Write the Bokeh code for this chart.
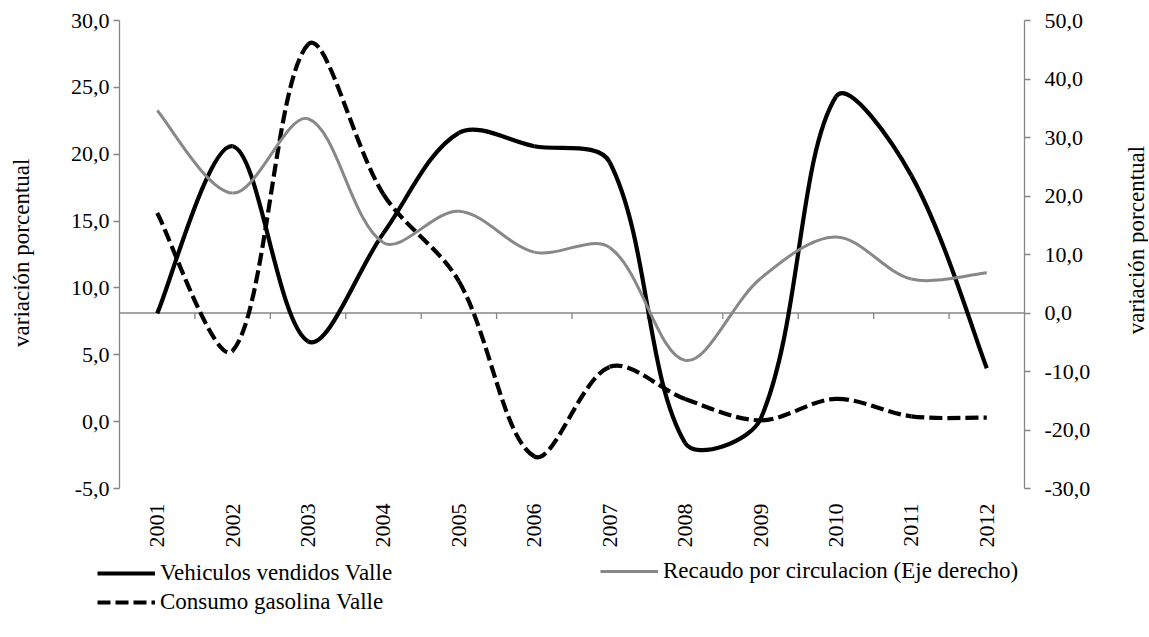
import math
from bokeh.plotting import figure
from bokeh.layouts import column, row
from bokeh.models import Range1d, LinearAxis, FixedTicker, Span, Legend, LegendItem, Label
from bokeh.embed import file_html
from bokeh.resources import INLINE

# ---------------- data ----------------
years = ["2001", "2002", "2003", "2004", "2005", "2006",
         "2007", "2008", "2009", "2010", "2011", "2012"]
vehiculos = [8.1, 20.6, 6.0, 14.1, 21.6, 20.6, 19.4, -1.6, 0.2, 24.3, 18.4, 4.0]
gasolina = [15.6, 5.3, 28.2, 17.0, 10.5, -2.6, 4.1, 1.7, 0.1, 1.7, 0.4, 0.3]
recaudo = [34.6, 20.5, 33.2, 12.0, 17.4, 10.4, 11.2, -8.1, 5.9, 13.0, 5.8, 6.9]

left_ticks = [-5, 0, 5, 10, 15, 20, 25, 30]
left_tick_labels = ["-5,0", "0,0", "5,0", "10,0", "15,0", "20,0", "25,0", "30,0"]
right_ticks = [-30, -20, -10, 0, 10, 20, 30, 40, 50]
right_tick_labels = ["-30,0", "-20,0", "-10,0", "0,0", "10,0", "20,0", "30,0", "40,0", "50,0"]

name_veh = "Vehiculos vendidos Valle"
name_gas = "Consumo gasolina Valle"
name_rec = "Recaudo por circulacion (Eje derecho)"
axis_title = "variación porcentual"

# ---------------- layout ----------------
FW, FH = 905, 468
LT_W = 40
B_LEFT, B_TOP, B_RIGHT, B_BOTTOM = 79, 20, 100, 62
MAIN_H = B_TOP + FH + B_BOTTOM
MAIN_W = B_LEFT + FW + B_RIGHT
RT_W = 24
LEG_H = 84
LEFT_MIN, LEFT_MAX = -5, 30
RIGHT_MIN, RIGHT_MAX = -30, 50
FONT = "Liberation Serif"
FS = "22px"
FS_BIG = "23px"
AXIS_COLOR = "#868686"

VEH_STYLE = dict(line_color="black", line_width=4.2)
GAS_STYLE = dict(line_color="black", line_width=4.2, line_dash="13 5")
REC_STYLE = dict(line_color="#888888", line_width=3)

xpos = [i + 1 for i in range(len(years))]

p = figure(frame_width=FW, frame_height=FH,
           x_range=Range1d(0.5, len(years) + 0.5),
           y_range=Range1d(LEFT_MIN, LEFT_MAX),
           output_backend="svg", toolbar_location=None,
           min_border_left=B_LEFT, min_border_right=B_RIGHT,
           min_border_top=B_TOP, min_border_bottom=B_BOTTOM)
p.extra_y_ranges = {"right": Range1d(RIGHT_MIN, RIGHT_MAX)}
p.grid.visible = False
p.outline_line_color = None
p.background_fill_color = "white"
p.border_fill_color = "white"

# pixel scales (for Excel-like smoothing computed in screen proportions)
kx = FW / (len(years))
k_left = FH / (LEFT_MAX - LEFT_MIN)
k_right = FH / (RIGHT_MAX - RIGHT_MIN)


def smooth_bezier(xs, ys, ky):
    """Bezier control points of an Excel-style smoothed line through the data."""
    pts = [(x * kx, y * ky) for x, y in zip(xs, ys)]
    n = len(pts)
    out = {k: [] for k in ("x0", "y0", "x1", "y1", "cx0", "cy0", "cx1", "cy1")}

    def dist(a, b):
        return math.hypot(a[0] - b[0], a[1] - b[1])

    for i in range(n - 1):
        p0 = pts[i - 1] if i > 0 else pts[i]
        p1 = pts[i]
        p2 = pts[i + 1]
        p3 = pts[i + 2] if i + 2 < n else pts[i + 1]
        d01, d12, d23 = dist(p0, p1), dist(p1, p2), dist(p2, p3)
        f1 = d12 / (d01 + d12) / 3 if (d01 + d12) > 0 else 0
        f2 = d12 / (d12 + d23) / 3 if (d12 + d23) > 0 else 0
        if i == 0:
            f1 = 1 / 6
        if i + 2 >= n:
            f2 = 1 / 6
        c1 = (p1[0] + (p2[0] - p0[0]) * f1, p1[1] + (p2[1] - p0[1]) * f1)
        c2 = (p2[0] - (p3[0] - p1[0]) * f2, p2[1] - (p3[1] - p1[1]) * f2)
        out["x0"].append(p1[0] / kx); out["y0"].append(p1[1] / ky)
        out["x1"].append(p2[0] / kx); out["y1"].append(p2[1] / ky)
        out["cx0"].append(c1[0] / kx); out["cy0"].append(c1[1] / ky)
        out["cx1"].append(c2[0] / kx); out["cy1"].append(c2[1] / ky)
    return out


# zero line of the right axis with category tick marks
zero = Span(location=0, dimension="width", y_range_name="right",
            line_color=AXIS_COLOR, line_width=1.3, level="underlay")
p.add_layout(zero)
bounds = [i + 1.5 for i in range(len(years) - 1)]
tick_len = 6 / k_right
p.segment(x0=bounds, y0=[0] * len(bounds), x1=bounds, y1=[-tick_len] * len(bounds),
          y_range_name="right", line_color=AXIS_COLOR, line_width=1.3, level="underlay")

# series
p.bezier(**smooth_bezier(xpos, vehiculos, k_left), **VEH_STYLE)
p.bezier(**smooth_bezier(xpos, gasolina, k_left), **GAS_STYLE)
p.bezier(**smooth_bezier(xpos, recaudo, k_right), y_range_name="right", **REC_STYLE)

# axes
xa = p.xaxis[0]
xa.ticker = FixedTicker(ticks=xpos)
xa.major_label_overrides = {xpos[i]: years[i] for i in range(len(years))}
xa.major_label_orientation = math.pi / 2
xa.axis_line_color = None
xa.major_tick_line_color = None
xa.minor_tick_line_color = None
xa.major_tick_out = 0
xa.major_tick_in = 0
xa.major_label_standoff = 15
xa.major_label_text_font = FONT
xa.major_label_text_font_size = FS
xa.major_label_text_color = "black"

ya = p.yaxis[0]
ya.ticker = FixedTicker(ticks=left_ticks)
ya.major_label_overrides = {left_ticks[i]: left_tick_labels[i] for i in range(len(left_ticks))}

ra = LinearAxis(y_range_name="right", ticker=FixedTicker(ticks=right_ticks))
ra.major_label_overrides = {right_ticks[i]: right_tick_labels[i] for i in range(len(right_ticks))}
p.add_layout(ra, "right")

for ax, standoff in ((ya, 4), (ra, 14)):
    ax.axis_line_color = AXIS_COLOR
    ax.axis_line_width = 1.3
    ax.major_tick_line_color = AXIS_COLOR
    ax.major_tick_line_width = 1.3
    ax.major_tick_out = 6
    ax.major_tick_in = 0
    ax.minor_tick_line_color = None
    ax.major_label_standoff = standoff
    ax.major_label_text_font = FONT
    ax.major_label_text_font_size = FS
    ax.major_label_text_color = "black"


# side strips holding the two axis titles (read bottom to top)
def title_strip(width, cx, cy):
    f = figure(width=width, height=MAIN_H, x_range=Range1d(0, width), y_range=Range1d(0, MAIN_H),
               output_backend="svg", toolbar_location=None, min_border=0,
               x_axis_location=None, y_axis_location=None)
    f.grid.visible = False
    f.outline_line_color = None
    f.add_layout(Label(x=cx, y=MAIN_H - cy, text=axis_title,
                       angle=math.pi / 2, text_align="center", text_baseline="middle",
                       text_font=FONT, text_font_size=FS_BIG, text_color="black"))
    return f


p_lt = title_strip(LT_W, 21, 273)
p_rt = title_strip(RT_W, RT_W / 2, 258)

# legend strip below the chart (legend lines reference the real series, kept out of view)
p_leg = figure(width=LT_W + MAIN_W + RT_W, height=LEG_H,
               x_range=Range1d(-10, -9), y_range=Range1d(0, 1),
               output_backend="svg", toolbar_location=None, min_border=0,
               x_axis_location=None, y_axis_location=None)
p_leg.grid.visible = False
p_leg.outline_line_color = None
l_veh = p_leg.line(x=xpos, y=vehiculos, **VEH_STYLE)
l_gas = p_leg.line(x=xpos, y=gasolina, **GAS_STYLE)
l_rec = p_leg.line(x=xpos, y=recaudo, **REC_STYLE)


def make_legend(items, loc):
    return Legend(items=items, location=loc, orientation="vertical",
                  glyph_width=58, glyph_height=22, label_height=22,
                  label_standoff=5, spacing=3, padding=0, margin=0,
                  border_line_color=None, background_fill_alpha=0,
                  label_text_font=FONT, label_text_font_size=FS_BIG,
                  label_text_color="black")


p_leg.add_layout(make_legend([LegendItem(label=name_veh, renderers=[l_veh]),
                              LegendItem(label=name_gas, renderers=[l_gas])], (97, 19)))
p_leg.add_layout(make_legend([LegendItem(label=name_rec, renderers=[l_rec])], (600, 50)))

layout = column(row(p_lt, p, p_rt, spacing=0), p_leg, spacing=0)
open("out.html", "w").write(file_html(layout, INLINE))
